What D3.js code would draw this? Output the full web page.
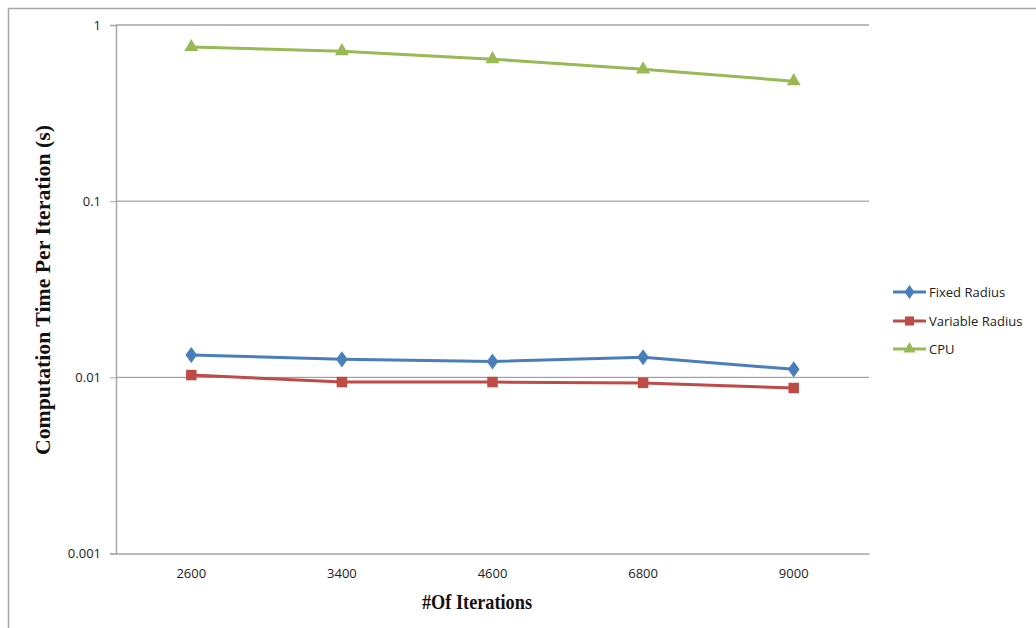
<!DOCTYPE html>
<html>
<head>
<meta charset="utf-8">
<script src="https://cdn.jsdelivr.net/npm/d3@7/dist/d3.min.js"></script>
<style>
  html, body { margin: 0; padding: 0; background: #fff; }
  svg { display: block; }
</style>
</head>
<body>
<svg id="chart" width="1036" height="628"></svg>
<script>
// Computation time per iteration (seconds) for each iteration count
const iterations = ["2600", "3400", "4600", "6800", "9000"];
const fixedRadius = [0.0134, 0.01265, 0.0123, 0.0130, 0.0111];
const variableRadius = [0.0103, 0.0094, 0.0094, 0.0093, 0.0087];
const cpu = [0.75, 0.71, 0.64, 0.56, 0.48];
const yTicks = [1, 0.1, 0.01, 0.001];
const yTickLabels = ["1", "0.1", "0.01", "0.001"];

const seriesList = [
  { name: "Fixed Radius", values: fixedRadius, color: "#4a7ebb", symbol: d3.symbolDiamond, size: 75 },
  { name: "Variable Radius", values: variableRadius, color: "#be4b48", symbol: d3.symbolSquare, size: 110 },
  { name: "CPU", values: cpu, color: "#98b954", symbol: d3.symbolTriangle, size: 85 }
];

const svg = d3.select("#chart");
const plot = { left: 116, top: 25, right: 869, bottom: 553.5 };
const labelFont = "'Open Sans', 'DejaVu Sans', sans-serif";
const titleFont = "'Liberation Serif', 'Times New Roman', serif";

// outer chart frame
svg.append("rect")
  .attr("x", 8.5).attr("y", 8.5)
  .attr("width", 1040).attr("height", 640)
  .attr("fill", "#fff")
  .attr("stroke", "#a6a6a6").attr("stroke-width", 1.5);

const x = d3.scaleBand().domain(iterations).range([plot.left, plot.right]);
const y = d3.scaleLog().domain([0.001, 1]).range([plot.bottom, plot.top]);

// horizontal gridlines
svg.append("g").selectAll("line")
  .data(yTicks.slice(0, 3))
  .join("line")
  .attr("x1", plot.left).attr("x2", plot.right)
  .attr("y1", d => y(d)).attr("y2", d => y(d))
  .attr("stroke", d => d === 1 ? "#a6a6a6" : "#8c8c8c")
  .attr("stroke-width", d => d === 1 ? 1.5 : 1);

// y axis
const yAxis = d3.axisLeft(y)
  .tickValues(yTicks)
  .tickFormat((d, i) => yTickLabels[i])
  .tickSize(6)
  .tickPadding(9);
const gy = svg.append("g")
  .attr("transform", `translate(${plot.left},0)`)
  .call(yAxis);
gy.select(".domain").attr("stroke", "#a6a6a6").attr("stroke-width", 1.5);
gy.selectAll(".tick line").attr("stroke", "#a6a6a6");
gy.selectAll(".tick text")
  .attr("font-family", labelFont)
  .attr("font-size", 13).attr("fill", "#222");

// x axis
const xAxis = d3.axisBottom(x).tickSize(0).tickPadding(15);
const gx = svg.append("g")
  .attr("transform", `translate(0,${plot.bottom})`)
  .call(xAxis);
gx.select(".domain").attr("stroke", "#a6a6a6").attr("stroke-width", 1.5);
gx.selectAll(".tick text")
  .attr("font-family", labelFont)
  .attr("font-size", 13).attr("fill", "#222");

// series lines and markers
const line = d3.line()
  .x((d, i) => x(iterations[i]) + x.bandwidth() / 2)
  .y(d => y(d));

seriesList.forEach(s => {
  svg.append("path")
    .datum(s.values)
    .attr("d", line)
    .attr("fill", "none")
    .attr("stroke", s.color)
    .attr("stroke-width", 3)
    .attr("stroke-linejoin", "round");
  svg.append("g").selectAll("path")
    .data(s.values)
    .join("path")
    .attr("d", d3.symbol().type(s.symbol).size(s.size))
    .attr("transform", (d, i) =>
      `translate(${x(iterations[i]) + x.bandwidth() / 2},${y(d)})` +
      (s.symbol === d3.symbolDiamond ? " scale(1.25,1)" : ""))
    .attr("fill", s.color);
});

// axis titles
svg.append("text")
  .attr("x", 477).attr("y", 609)
  .attr("text-anchor", "middle")
  .attr("font-family", titleFont)
  .attr("font-weight", "bold").attr("font-size", 21)
  .attr("textLength", 110).attr("lengthAdjust", "spacingAndGlyphs")
  .attr("fill", "#111")
  .text("#Of Iterations");

svg.append("text")
  .attr("transform", "translate(50,290) rotate(-90)")
  .attr("text-anchor", "middle")
  .attr("font-family", titleFont)
  .attr("font-weight", "bold").attr("font-size", 22)
  .attr("textLength", 330).attr("lengthAdjust", "spacingAndGlyphs")
  .attr("fill", "#111")
  .text("Computation Time Per Iteration (s)");

// legend
const legendRows = [292, 321, 349];
const legend = svg.append("g");
seriesList.forEach((s, i) => {
  const g = legend.append("g").attr("transform", `translate(893,${legendRows[i]})`);
  g.append("line").attr("x1", 0).attr("x2", 33).attr("y1", 0).attr("y2", 0)
    .attr("stroke", s.color).attr("stroke-width", 3);
  g.append("path")
    .attr("d", d3.symbol().type(s.symbol).size(s.size * 0.75))
    .attr("transform", "translate(16.5,0)" +
      (s.symbol === d3.symbolDiamond ? " scale(1.25,1)" : ""))
    .attr("fill", s.color);
  g.append("text")
    .attr("x", 36).attr("y", 4.5)
    .attr("font-family", labelFont)
    .attr("font-size", 13).attr("fill", "#222")
    .text(s.name);
});
</script>
</body>
</html>
